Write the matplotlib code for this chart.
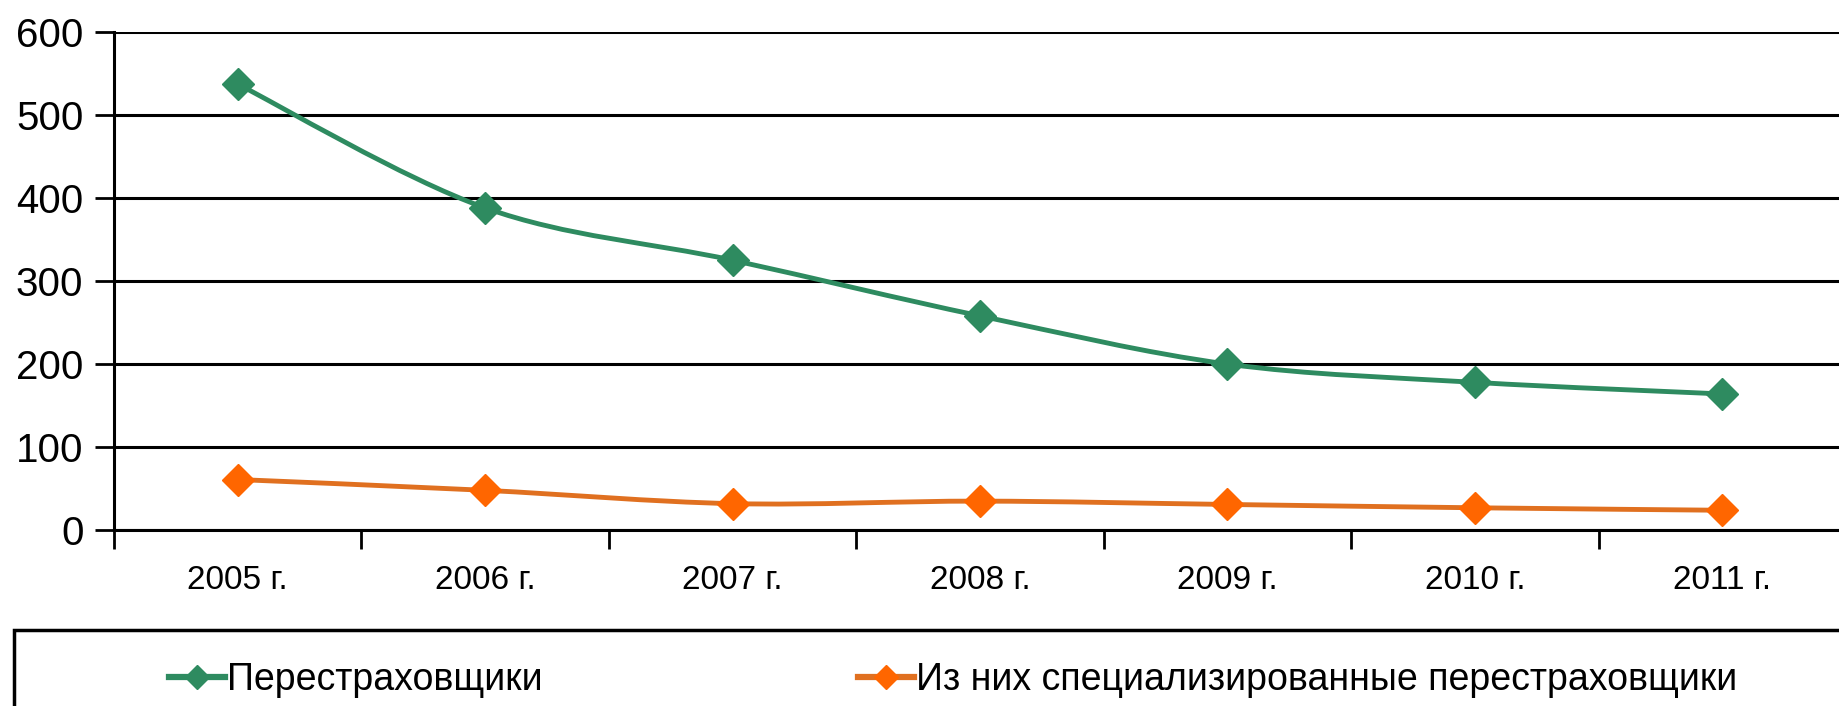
import matplotlib.pyplot as plt
from matplotlib.patches import Rectangle, PathPatch
from matplotlib.path import Path
from matplotlib.lines import Line2D

# Data
years = ['2005 г.', '2006 г.', '2007 г.', '2008 г.', '2009 г.', '2010 г.', '2011 г.']
reinsurers = [537, 388, 325, 258, 200, 178, 164]
specialized = [61, 48, 32, 35, 31, 27, 24]
series_names = ['Перестраховщики', 'Из них специализированные перестраховщики']

GREEN = '#2E8B60'
ORANGE_LINE = '#E07020'
ORANGE = '#FF6600'

plt.rcParams['font.family'] = ['Liberation Sans', 'DejaVu Sans']


def smooth_path(xs, ys):
    # Excel-like smoothed line: Catmull-Rom as cubic Bezier segments
    pts = list(zip(xs, ys))
    verts = [pts[0]]
    codes = [Path.MOVETO]
    n = len(pts)
    for i in range(n - 1):
        p0 = pts[max(i - 1, 0)]
        p1 = pts[i]
        p2 = pts[i + 1]
        p3 = pts[min(i + 2, n - 1)]
        c1 = (p1[0] + (p2[0] - p0[0]) / 6, p1[1] + (p2[1] - p0[1]) / 6)
        c2 = (p2[0] - (p3[0] - p1[0]) / 6, p2[1] - (p3[1] - p1[1]) / 6)
        verts += [c1, c2, p2]
        codes += [Path.CURVE4] * 3
    return Path(verts, codes)


fig = plt.figure(figsize=(18.39, 7.06), dpi=100)
ax = fig.add_axes([114 / 1839, 0.249, (1846 - 114) / 1839, 0.706])

x = list(range(len(years)))
for vals, lc, mc in [(reinsurers, GREEN, GREEN), (specialized, ORANGE_LINE, ORANGE)]:
    ax.add_patch(PathPatch(smooth_path(x, vals), fill=False, edgecolor=lc, lw=3.5, zorder=3))
    ax.plot(x, vals, ls='none', marker='D', ms=16, markerfacecolor=mc,
            markeredgecolor=mc, zorder=4)

ax.set_xlim(-0.5, len(years) - 0.5)
ax.set_ylim(0, 600)
ax.set_yticks(range(0, 601, 100))
ax.yaxis.grid(True, color='black', lw=2.2)
ax.set_axisbelow(True)

ax.set_xticks(x)
ax.set_xticklabels(years, fontsize=24)
ax.set_xticks([i + 0.5 for i in range(-1, len(years))], minor=True)
ax.tick_params(axis='x', which='major', length=0, pad=25)
ax.tick_params(axis='x', which='minor', length=14, width=2, direction='out')
ax.tick_params(axis='y', length=14, width=2, direction='out', labelsize=29, pad=8)

for s in ['top', 'right']:
    ax.spines[s].set_visible(False)
for s in ['left', 'bottom']:
    ax.spines[s].set_linewidth(2.2)

# legend box
fig.patches.append(Rectangle((14 / 1839, -0.1), 1.1, 0.1 + 1 - 630 / 706,
                             transform=fig.transFigure, fill=False,
                             edgecolor='black', lw=2.5))
handles = [
    Line2D([], [], color=GREEN, lw=4.5, marker='D', ms=12, markerfacecolor=GREEN, markeredgecolor=GREEN),
    Line2D([], [], color=ORANGE_LINE, lw=4.5, marker='D', ms=12, markerfacecolor=ORANGE, markeredgecolor=ORANGE),
]
fig.legend(handles, series_names, loc='center left', bbox_to_anchor=(135 / 1839, 1 - 680 / 706),
           ncol=2, frameon=False, fontsize=27, handlelength=1.5,
           handletextpad=0.05, columnspacing=8.4)

fig.savefig('out.png', dpi=100)
